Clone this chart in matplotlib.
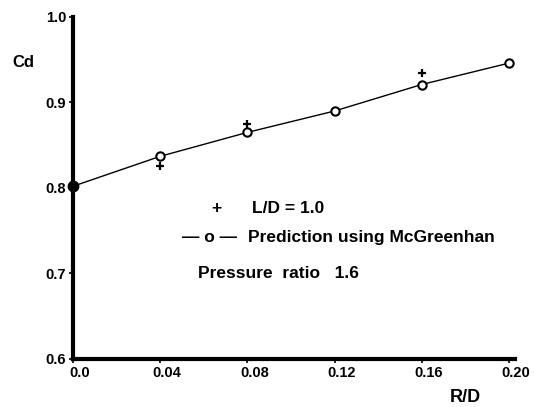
import matplotlib.pyplot as plt
from matplotlib.transforms import ScaledTranslation

plt.rcParams['font.family'] = ['Liberation Sans', 'DejaVu Sans']
plt.rcParams['font.weight'] = 'bold'

# prediction (McGreenhan) and measured L/D = 1.0
rd_pred = [0.0, 0.04, 0.08, 0.12, 0.16, 0.20]
cd_pred = [0.802, 0.837, 0.865, 0.890, 0.921, 0.946]
rd_meas = [0.0, 0.04, 0.08, 0.16]
cd_meas = [0.802, 0.826, 0.875, 0.934]

xticks = [0.0, 0.04, 0.08, 0.12, 0.16, 0.20]
xticklabels = ['0.0', '0.04', '0.08', '0.12', '0.16', '0.20']
yticks = [0.6, 0.7, 0.8, 0.9, 1.0]
yticklabels = ['0.6', '0.7', '0.8', '0.9', '1.0']

fig = plt.figure(figsize=(5.34, 4.07), dpi=100)
ax = fig.add_axes([0.1367, 0.118, 0.8277, 0.8403])

ax.plot(rd_pred[1:], cd_pred[1:], color='black', lw=1.0, marker='o', ms=6,
        mfc='white', mec='black', mew=1.5, zorder=3, clip_on=False)
ax.plot(rd_pred[:2], cd_pred[:2], color='black', lw=1.0, zorder=2)
ax.plot(rd_meas[1:], cd_meas[1:], ls='none', marker='+', ms=5.5, mew=1.6,
        color='black', zorder=4)
ax.plot([rd_pred[0]], [cd_pred[0]], ls='none', marker='o', ms=7.5,
        color='black', zorder=5, clip_on=False)

ax.set_xlim(0.0, 0.2028)
ax.set_ylim(0.6, 1.0)
ax.set_xticks(xticks)
ax.set_xticklabels(xticklabels)
ax.set_yticks(yticks)
ax.set_yticklabels(yticklabels)
ax.tick_params(axis='both', labelsize=10.5, length=3, width=1.2, pad=2)

# hand-lettered labels sit a little right of their ticks
shift = ScaledTranslation(0.07, 0, fig.dpi_scale_trans)
for lab in ax.get_xticklabels():
    lab.set_transform(lab.get_transform() + shift)

for side in ['top', 'right']:
    ax.spines[side].set_visible(False)
ax.spines['left'].set_linewidth(3)
ax.spines['bottom'].set_linewidth(3)

fig.text(12 / 534, 1 - 67 / 407, 'Cd', fontsize=12, ha='left', va='baseline')
fig.text(450 / 534, 1 - 402 / 407, 'R/D', fontsize=13, ha='left', va='baseline')

fig.text(216 / 534, 1 - 208 / 407, '+', fontsize=12.5, ha='center', va='center')
fig.text(252 / 534, 1 - 213 / 407, 'L/D = 1.0', fontsize=12.5, ha='left', va='baseline')
fig.text(182 / 534, 1 - 242 / 407, '— o —', fontsize=12.5, ha='left', va='baseline')
fig.text(248 / 534, 1 - 242 / 407, 'Prediction using McGreenhan', fontsize=12.5,
         ha='left', va='baseline')
fig.text(198 / 534, 1 - 278 / 407, 'Pressure  ratio   1.6', fontsize=12.5,
         ha='left', va='baseline')

fig.savefig('out.png', dpi=100)
